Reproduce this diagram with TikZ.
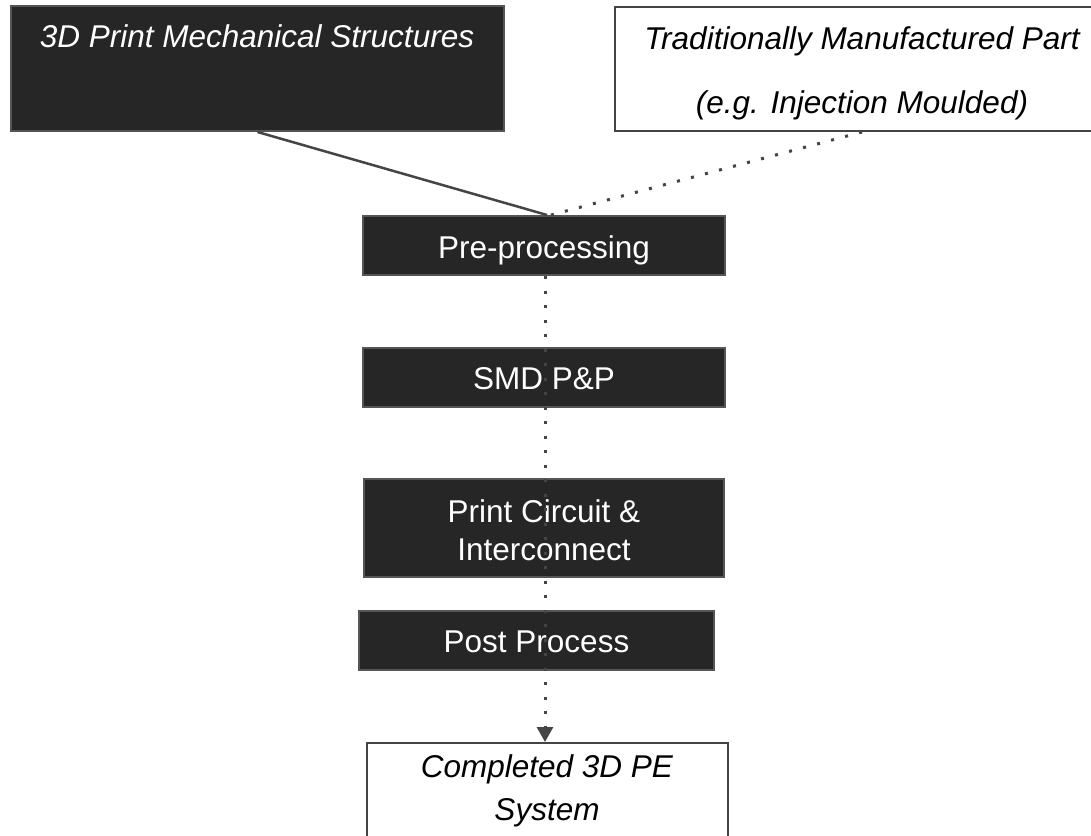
\documentclass[tikz,border=0pt]{standalone}
\usepackage{fontspec}
\setmainfont{Liberation Sans}
\usetikzlibrary{arrows.meta,calc}
\definecolor{boxfill}{HTML}{262626}
\definecolor{boxline}{HTML}{555555}
\definecolor{wline}{HTML}{444444}
\definecolor{conn}{HTML}{454545}
\tikzset{
  darkbox/.style={draw=boxline, line width=2pt, fill=boxfill, inner sep=0pt},
  whitebox/.style={draw=wline, line width=2pt, fill=white, inner sep=0pt},
  wtxt/.style={text=white, font=\fontsize{31.5}{36}\selectfont, anchor=base, inner sep=0pt},
  btxt/.style={text=black, font=\fontsize{31.5}{36}\selectfont\itshape, anchor=base, inner sep=0pt},
  solidconn/.style={draw=conn, line width=2.5pt},
  dotconn/.style={draw=conn, line width=3pt, dash pattern=on 3pt off 11.5pt},
}
\begin{document}
\begin{tikzpicture}[x=1pt,y=-1pt]
\clip (0,0) rectangle (1091,835);
\fill[white] (0,0) rectangle (1091,835);
% boxes
\node[darkbox, minimum width=493pt, minimum height=125pt] (mech) at (257.5,68.5) {};
\node[whitebox, minimum width=494pt, minimum height=124pt] (trad) at (862,69) {};
\node[darkbox, minimum width=362pt, minimum height=59pt] (pre) at (544,245.5) {};
\node[darkbox, minimum width=362pt, minimum height=59pt] (smd) at (544,377.5) {};
\node[darkbox, minimum width=360pt, minimum height=98pt] (pc) at (544,528) {};
\node[darkbox, minimum width=355pt, minimum height=59pt] (post) at (536.5,640.5) {};
\node[whitebox, minimum width=361pt, minimum height=120pt] (comp) at (547.5,803) {};
% texts
\node[wtxt, font=\fontsize{31.5}{36}\selectfont\itshape] (mecht) at (257,47) {3D Print Mechanical Structures};
\node[btxt] (tradt1) at (862,49) {Traditionally Manufactured Part};
\node[btxt] (tradt2) at (862,113) {(e.g. Injection Moulded)};
\node[wtxt] (pret) at (544,258) {Pre-processing};
\node[wtxt] (smdt) at (544,389) {SMD P\&P};
\node[wtxt] (pct1) at (544,522) {Print Circuit \&};
\node[wtxt] (pct2) at (544,560) {Interconnect};
\node[wtxt] (postt) at (536.5,652) {Post Process};
\node[btxt] (compt1) at (547,777) {Completed 3D PE};
\node[btxt] (compt2) at (547,820) {System};
% connectors
\coordinate (join) at ($(pre.north)+(3,0)$);
\coordinate (join2) at ($(pre.north)+(7,0)$);
\coordinate (vs) at ($(pre.south)+(1,0)$);
\draw[solidconn] (mech.south) -- (join);
\draw[dotconn] (trad.south) -- (join2);
\draw[dotconn, -{Triangle[width=16pt,length=15pt]}] (vs) -- (vs |- comp.north);
\end{tikzpicture}
\end{document}
